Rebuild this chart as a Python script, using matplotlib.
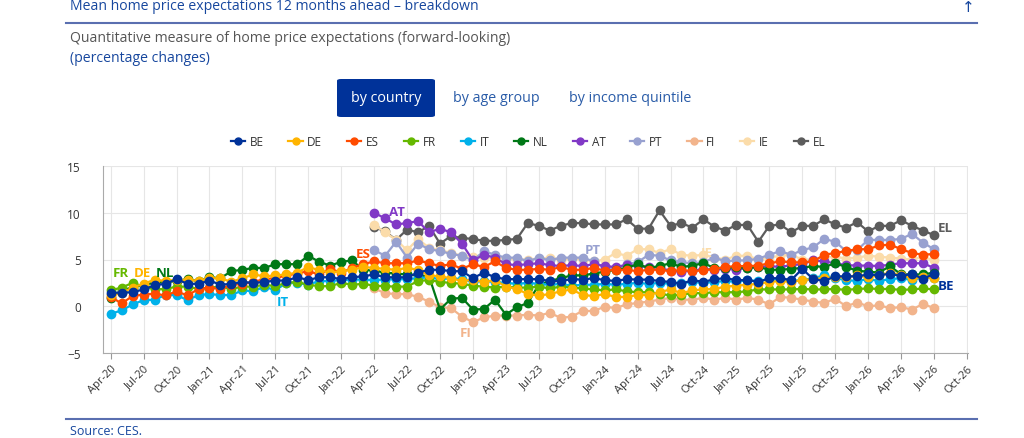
import matplotlib
matplotlib.use("Agg")
import matplotlib.pyplot as plt
import numpy as np
import pandas as pd
from matplotlib.lines import Line2D
from matplotlib.patches import FancyBboxPatch

# monthly observations Apr-20 .. Jul-26
be = [1.45, 1.45, 1.5, 1.8, 2.25, 2.4, 2.9, 2.4, 2.4, 2.75, 2.3, 2.4, 2.6, 2.5, 2.6, 2.75, 2.75, 3.1, 2.8, 3.1,
      3.1, 2.9, 3.1, 3.2, 3.4, 3.1, 3.1, 3.1, 3.6, 3.9, 3.9, 3.75, 3.75, 3.0, 3.6, 3.1, 2.9, 2.9, 2.9, 2.9,
      2.7, 2.7, 2.9, 2.85, 3.0, 2.8, 2.7, 2.9, 2.85, 2.85, 2.7, 2.6, 2.4, 2.8, 2.6, 2.9, 3.0, 2.8, 2.8, 2.6,
      3.0, 3.0, 2.8, 4.0, 2.9, 2.7, 3.2, 3.2, 3.2, 3.4, 3.3, 3.5, 3.2, 3.5, 2.9, 3.5]
de = [1.15, 1.4, 2.0, 2.4, 2.85, 2.7, 2.85, 2.8, 2.75, 3.0, 3.0, 2.6, 3.0, 3.4, 3.2, 3.3, 3.4, 3.6, 4.2, 3.85,
      3.6, 3.75, 3.9, 4.2, 4.1, 4.0, 3.9, 4.1, 3.9, 3.3, 3.2, 3.0, 2.7, 2.85, 2.6, 2.8, 2.1, 1.85, 1.3, 1.15,
      1.3, 1.6, 1.8, 1.2, 1.1, 1.3, 1.0, 1.0, 1.2, 1.2, 1.5, 1.8, 1.4, 1.7, 1.8, 1.85, 2.1, 2.2, 2.3, 2.4,
      2.6, 2.7, 2.6, 2.8, 2.9, 3.0, 3.1, 3.1, 3.3, 3.1, 3.3, 3.6, 3.3, 3.0, 3.1, 3.0]
es = [1.0, 0.3, 1.1, 1.25, 1.35, 1.15, 1.6, 1.15, 1.85, 2.0, 1.85, 2.3, 2.4, 2.6, 2.9, 3.0, 3.3, 3.5, 3.75, 3.4,
      4.0, 3.6, 4.1, 4.5, 4.8, 4.6, 4.6, 4.6, 4.9, 4.6, 4.3, 4.5, 4.0, 4.5, 4.2, 4.8, 4.1, 3.9, 3.9, 4.0,
      3.9, 4.2, 3.9, 3.9, 4.1, 3.8, 3.9, 3.9, 3.75, 3.9, 3.9, 3.75, 3.9, 3.75, 3.85, 4.0, 4.2, 4.3, 4.3, 4.35,
      4.6, 4.8, 4.7, 4.7, 4.8, 5.5, 5.7, 5.9, 6.1, 6.1, 6.5, 6.6, 6.1, 5.7, 5.5, 5.6]
fr = [1.7, 2.0, 2.5, 2.1, 1.8, 1.85, 2.1, 2.1, 1.85, 2.0, 2.1, 1.85, 2.1, 2.1, 2.3, 2.15, 2.5, 2.6, 2.3, 2.15,
      2.15, 2.5, 2.3, 2.4, 2.2, 2.15, 2.1, 2.1, 2.7, 2.8, 2.6, 2.5, 2.4, 2.2, 2.1, 2.0, 2.1, 2.0, 2.0, 2.1,
      1.9, 2.1, 2.0, 1.9, 1.8, 1.7, 1.8, 1.6, 1.5, 1.5, 1.35, 1.15, 1.25, 1.4, 1.4, 1.5, 1.5, 1.5, 1.6, 1.8,
      1.8, 1.8, 1.8, 1.85, 1.8, 1.8, 1.85, 1.75, 1.85, 1.9, 1.85, 1.85, 1.75, 1.8, 1.9, 1.8]
it = [-0.8, -0.45, 0.2, 0.65, 0.7, 1.2, 1.2, 0.65, 1.2, 1.3, 1.2, 1.2, 1.7, 1.6, 2.1, 1.7, 2.5, 2.5, 2.3, 2.7,
      2.7, 2.8, 2.85, 2.85, 2.8, 2.85, 2.9, 2.9, 3.0, 3.1, 2.9, 3.0, 2.9, 2.6, 2.7, 2.6, 2.5, 2.4, 2.5, 2.4,
      2.3, 2.4, 2.2, 2.3, 2.3, 2.4, 2.3, 2.4, 2.5, 2.4, 2.5, 2.4, 2.5, 2.6, 2.5, 2.6, 2.7, 2.6, 2.8, 2.7,
      2.9, 2.8, 2.7, 2.8, 3.0, 3.3, 3.0, 2.8, 2.7, 2.9, 2.7, 2.9, 3.0, 2.8, 3.1, 3.0]
nl = [0.9, 1.7, 2.0, 2.3, 2.5, 2.6, 2.7, 2.9, 2.7, 3.1, 3.0, 3.75, 3.9, 4.1, 4.1, 4.5, 4.5, 4.5, 5.4, 4.75,
      4.35, 4.75, 4.9, 3.9, 3.8, 3.6, 3.5, 3.4, 3.3, 3.2, -0.35, 0.8, 0.9, -0.35, -0.3, 0.7, -0.9, -0.1, 0.35, 2.3,
      2.7, 3.0, 3.3, 3.3, 3.5, 3.7, 3.9, 4.1, 4.5, 4.1, 4.3, 4.6, 4.2, 4.35, 4.6, 4.1, 4.1, 4.2, 4.1, 4.2,
      3.9, 3.9, 4.0, 4.1, 4.3, 4.2, 4.6, 4.2, 3.8, 3.7, 3.6, 4.3, 3.4, 3.4, 3.4, 3.6]
# these start in Apr-22
at = [10.0, 9.4, 8.75, 8.9, 9.1, 7.9, 8.3, 7.9, 6.7, 4.9, 5.5, 5.2, 4.5, 4.4, 4.5, 4.6, 4.4, 4.3, 4.4, 4.3,
      4.5, 4.3, 4.2, 4.4, 4.3, 4.2, 4.1, 3.8, 3.7, 3.8, 4.0, 3.9, 4.0, 3.9, 4.1, 4.2, 4.3, 4.2, 4.4, 4.5,
      4.9, 4.8, 4.6, 4.4, 4.35, 4.35, 4.3, 4.45, 4.6, 4.6, 4.6, 4.1]
pt = [6.0, 5.4, 6.9, 5.2, 6.7, 6.1, 5.9, 5.6, 5.4, 4.9, 5.9, 5.5, 5.2, 5.2, 4.8, 5.2, 4.9, 5.2, 5.2, 5.2,
      4.8, 4.1, 4.1, 4.5, 4.7, 5.5, 5.4, 4.9, 4.7, 4.6, 4.7, 5.2, 4.8, 4.9, 4.9, 5.1, 5.5, 5.9, 5.5, 6.0,
      6.3, 7.2, 6.9, 5.9, 6.0, 7.1, 7.1, 7.1, 7.2, 7.75, 6.8, 6.1]
fi = [1.9, 1.4, 1.3, 1.3, 1.0, 0.5, -0.1, -0.2, -1.1, -1.7, -1.2, -1.0, -1.0, -1.0, -0.9, -1.0, -0.7, -1.25, -1.1, -0.5,
      -0.5, -0.05, -0.2, 0.2, 0.35, 0.5, 0.7, 0.9, 0.7, 0.7, 0.9, 0.7, 0.9, 0.7, 0.9, 0.7, 0.2, 1.0, 0.9, 0.7,
      0.5, 0.35, 0.8, 0.0, 0.4, 0.0, 0.1, -0.2, -0.1, -0.35, 0.25, -0.2]
ie = [8.7, 7.9, 7.1, 6.0, 7.2, 6.25, 6.0, 5.7, 5.4, 5.3, 5.2, 5.2, 5.1, 5.0, 5.0, 5.1, 5.2, 5.0, 5.1, 5.0,
      4.8, 5.0, 5.7, 5.4, 6.1, 6.1, 5.7, 6.1, 5.5, 5.4, 5.5, 5.2, 5.0, 5.4, 5.4, 5.0, 5.2, 5.4, 5.5, 5.0,
      5.0, 5.2, 5.3, 5.1, 5.2, 5.4, 5.3, 5.2, 5.1, 5.0, 5.3, 4.9]
el = [8.5, 8.0, 7.1, 8.2, 7.9, 8.6, 6.7, 7.5, 7.3, 7.2, 7.0, 7.0, 7.1, 7.2, 8.9, 8.6, 8.1, 8.6, 8.9, 8.9,
      8.75, 8.75, 8.75, 9.3, 8.3, 8.3, 10.25, 8.6, 8.9, 8.4, 9.3, 8.5, 8.1, 8.7, 8.7, 6.9, 8.6, 8.75, 7.9, 8.6,
      8.6, 9.3, 8.75, 8.4, 9.0, 8.0, 8.6, 8.6, 9.2, 8.6, 8.1, 7.6]

names = ["BE", "DE", "ES", "FR", "IT", "NL", "AT", "PT", "FI", "IE", "EL"]
series = [be, de, es, fr, it, nl, at, pt, fi, ie, el]
colors = ["#003299", "#ffb400", "#ff4b00", "#65b800", "#00b1ea", "#007816",
          "#8139c6", "#98a1d0", "#f2b48c", "#fbdcaa", "#5c5c5c"]
tick_labels = [d.strftime("%b-%y") for d in pd.date_range("2020-04-01", "2026-10-01", freq="3MS")]

# in-chart series labels (month index, value)
labels = {"FR": (0.9, 3.6), "DE": (2.9, 3.6), "NL": (4.9, 3.6), "IT": (15.7, 0.5), "ES": (23.0, 5.6),
          "AT": (26.1, 10.1), "PT": (43.9, 6.1), "FI": (32.3, -2.8), "IE": (54.3, 5.8),
          "EL": (75.3, 8.4), "BE": (75.3, 2.2)}

blue = "#17479e"
plt.rcParams["font.family"] = ["Open Sans", "DejaVu Sans"]

fig = plt.figure(figsize=(10.24, 4.39), dpi=100)
ax = fig.add_axes([103 / 1024, 1 - 354 / 439, 865 / 1024, 187 / 439])

for name, vals, col in reversed(list(zip(names, series, colors))):
    x = np.arange(76 - len(vals), 76)
    ax.plot(x, vals, color=col, lw=1.6, marker="o", ms=6, zorder=3)

for name, col in zip(names, colors):
    lx, ly = labels[name]
    ha = "left" if name in ("EL", "BE") else "center"
    ax.text(lx, ly, name, color=col, fontsize=9.5, fontweight="bold", ha=ha, va="center", zorder=5)

ax.set_xlim(-0.7, 78.1)
ax.set_ylim(-5, 15)
ax.set_yticks([-5, 0, 5, 10, 15])
ax.set_xticks(np.arange(0, 79, 3))
ax.set_xticklabels(tick_labels, rotation=45, ha="right", rotation_mode="anchor", fontsize=8, color="#333333")
ax.tick_params(axis="y", length=0, labelsize=8.5, labelcolor="#333333", pad=16)
ax.tick_params(axis="x", length=4, color="#999999", pad=3)
ax.grid(True, color="#e6e6e6", lw=0.8)
ax.set_axisbelow(True)
for s in ["top", "right"]:
    ax.spines[s].set_visible(False)
ax.spines["left"].set_color("#aaaaaa")
ax.spines["bottom"].set_color("#aaaaaa")

handles = [Line2D([], [], color=c, lw=1.6, marker="o", ms=5) for c in colors]
fig.legend(handles, names, loc="center", bbox_to_anchor=(528 / 1024, 1 - 143 / 439), ncol=11, frameon=False,
           fontsize=8.5, handlelength=1.2, handletextpad=0.4, columnspacing=2.1, labelcolor="#333333")

# header
fig.text(70 / 1024, 1 - 7 / 439, "Mean home price expectations 12 months ahead \u2013 breakdown", color=blue,
         fontsize=10.1, va="center")
fig.text(968 / 1024, 1 - 7 / 439, "\u2191", color=blue, fontsize=11, va="center", ha="center",
         family="DejaVu Sans")
fig.add_artist(Line2D([66 / 1024, 977 / 1024], [1 - 24 / 439] * 2, color="#5a6fb0", lw=1.5))
fig.text(70 / 1024, 1 - 39 / 439, "Quantitative measure of home price expectations (forward-looking)",
         color="#555555", fontsize=10.1, va="center")
fig.text(70 / 1024, 1 - 58 / 439, "(percentage changes)", color=blue, fontsize=10.1, va="center")

fig.add_artist(FancyBboxPatch((337 / 1024, 1 - 118 / 439), 98 / 1024, 38 / 439,
                              boxstyle="round,pad=0,rounding_size=0.004", fc="#003299", ec="none",
                              transform=fig.transFigure))
fig.text(386 / 1024, 1 - 98 / 439, "by country", color="white", fontsize=10.3, ha="center", va="center")
fig.text(496 / 1024, 1 - 98 / 439, "by age group", color="#2a5ca8", fontsize=10.3, ha="center", va="center")
fig.text(630 / 1024, 1 - 98 / 439, "by income quintile", color="#2a5ca8", fontsize=10.3, ha="center",
         va="center")

fig.add_artist(Line2D([66 / 1024, 977 / 1024], [1 - 420 / 439] * 2, color="#5a6fb0", lw=1.5))
fig.text(70 / 1024, 1 - 432 / 439, "Source: CES.", color=blue, fontsize=9, va="center")

fig.savefig("out.png", dpi=100)
